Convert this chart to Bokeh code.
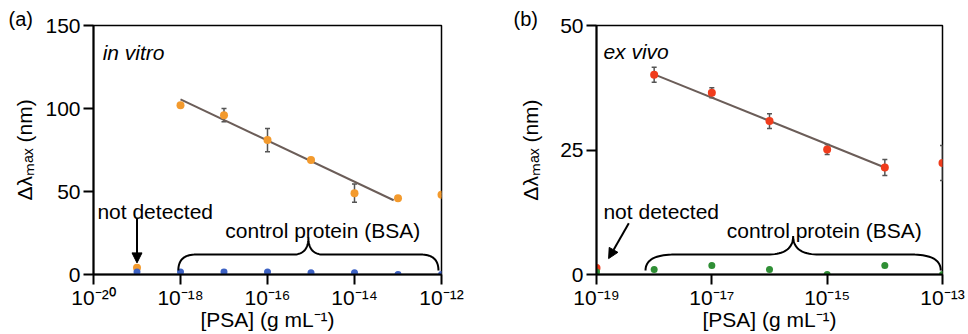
import numpy as np
from bokeh.plotting import figure
from bokeh.models import (ColumnDataSource, Whisker, TeeHead, Label, FixedTicker,
                          CustomJSTickFormatter, Arrow, NormalHead, Range1d)
from bokeh.layouts import row
from bokeh.embed import file_html
from bokeh.resources import INLINE

# ---------------- data: panel (a) in vitro ----------------
a_exponents = [-19, -18, -17, -16, -15, -14, -13, -12]
a_psa = [4, 102, 96, 81, 69, 49, 46, 48]
a_psa_err = [0.8, 1.0, 4.0, 7.0, 1.0, 5.5, 1.0, 1.0]
a_bsa = [1.5, 1.5, 1.5, 1.5, 1.0, 1.0, 0.0, 0.0]
a_fit_exp = [-18.0, -13.1]
a_fit_intercept = 105.5   # value at 1e-18
a_fit_slope = -12.4       # nm per decade

# ---------------- data: panel (b) ex vivo ----------------
b_exponents = [-19, -18, -17, -16, -15, -14, -13]
b_psa = [1.3, 40.1, 36.5, 30.8, 25.1, 21.5, 22.4]
b_psa_err = [0.5, 1.5, 1.0, 1.5, 1.0, 1.6, 3.5]
b_bsa = [0.5, 1.0, 1.8, 1.0, 0.0, 1.8, 0.0]
b_fit_exp = [-18.0, -14.0]
b_fit_intercept = 40.2
b_fit_slope = -4.68

a_xticks = [-20, -18, -16, -14, -12]
a_yticks = [0, 50, 100, 150]
b_xticks = [-19, -17, -15, -13]
b_yticks = [0, 25, 50]

FONT = "Liberation Sans"
ORANGE = "#f39a2d"
BLUE = "#3d62c4"
RED = "#f03c1c"
GREEN = "#2f8f35"
FITC = "#6b5d58"
ERRC = "#555555"

tick_js = """
const sup = {"-":"\u207b","0":"\u2070","1":"\u00b9","2":"\u00b2","3":"\u00b3","4":"\u2074",
             "5":"\u2075","6":"\u2076","7":"\u2077","8":"\u2078","9":"\u2079"};
const e = Math.round(Math.log10(tick));
return "10" + String(e).split("").map(c => sup[c]).join("");
"""


def brace_points(lx, rx, y0, y1, y2, cx, d1, d2, n=20):
    t = np.linspace(0, 1, n)

    def quad(p0, c, p1):
        xs = (1 - t) ** 2 * p0[0] + 2 * (1 - t) * t * c[0] + t ** 2 * p1[0]
        ys = (1 - t) ** 2 * p0[1] + 2 * (1 - t) * t * c[1] + t ** 2 * p1[1]
        return list(xs), list(ys)

    X, Y = [], []
    for seg in [quad((lx, y0), (lx, y1), (lx + d1, y1)),
                quad((cx - d2, y1), (cx, y1), (cx, y2)),
                quad((cx, y2), (cx, y1), (cx + d2, y1)),
                quad((rx - d1, y1), (rx, y1), (rx, y0))]:
        X += seg[0]
        Y += seg[1]
    return [10 ** v for v in X], Y


def make_panel(width, border_left, border_right, exps, psa, err, bsa, fit_exp, fit_b, fit_m,
               xticks, yticks, xr, yr, psa_color, bsa_color, ylabel_standoff,
               panel_tag, tag_offset):
    p = figure(width=width, height=334, x_axis_type="log",
               x_range=Range1d(10.0 ** xr[0], 10.0 ** xr[1]), y_range=Range1d(*yr),
               output_backend="svg", toolbar_location=None,
               min_border_left=border_left, min_border_right=border_right,
               min_border_top=25, min_border_bottom=60)
    p.grid.visible = False
    p.outline_line_color = "black"
    p.outline_line_width = 1.5
    p.background_fill_color = "white"
    p.border_fill_color = "white"

    p.title.text = panel_tag
    p.title.align = "left"
    p.title.offset = tag_offset
    p.title.standoff = -8
    p.title.text_font = FONT
    p.title.text_font_size = "20px"
    p.title.text_font_style = "normal"
    p.title.text_color = "black"

    p.xaxis.ticker = FixedTicker(ticks=[10.0 ** e for e in xticks], minor_ticks=[])
    p.xaxis.formatter = CustomJSTickFormatter(code=tick_js)
    p.yaxis.ticker = FixedTicker(ticks=yticks, minor_ticks=[])
    for ax in (p.xaxis[0], p.yaxis[0]):
        ax.axis_line_width = 2
        ax.axis_line_color = "black"
        ax.major_tick_line_width = 2
        ax.major_tick_line_color = "black"
        ax.major_tick_out = 10
        ax.major_tick_in = 0
        ax.minor_tick_line_color = None
        ax.major_label_text_font = FONT
        ax.major_label_text_font_size = "21px"
        ax.major_label_text_color = "black"
        ax.axis_label_text_font = FONT
        ax.axis_label_text_font_size = "21px"
        ax.axis_label_text_font_style = "normal"
        ax.axis_label_text_color = "black"
    p.xaxis.major_label_standoff = 1
    p.yaxis.major_label_standoff = 3
    p.xaxis.axis_label = "[PSA] (g mL\u207b\u00b9)"
    p.xaxis.axis_label_standoff = -4
    p.yaxis.axis_label = "\u0394\u03bb\u2098\u2090\u2093 (nm)"
    p.yaxis.axis_label_standoff = ylabel_standoff

    x = [10.0 ** e for e in exps]
    src = ColumnDataSource(dict(x=x, psa=psa, bsa=bsa,
                                up=[v + e for v, e in zip(psa, err)],
                                lo=[v - e for v, e in zip(psa, err)]))
    fx = np.linspace(fit_exp[0], fit_exp[1], 2)
    fy = fit_b + fit_m * (fx - fit_exp[0])
    p.line(10.0 ** fx, fy, line_color=FITC, line_width=2)
    w = Whisker(base="x", upper="up", lower="lo", source=src, dimension="height",
                line_color=ERRC, line_width=1.5,
                upper_head=TeeHead(size=5, line_color=ERRC, line_width=1.5),
                lower_head=TeeHead(size=5, line_color=ERRC, line_width=1.5))
    p.add_layout(w)
    p.scatter("x", "psa", source=src, size=8, fill_color=psa_color, line_color=None)
    p.scatter("x", "bsa", source=src, size=7, fill_color=bsa_color, line_color=None)
    return p


pa = make_panel(488, 93, 47, a_exponents, a_psa, a_psa_err, a_bsa, a_fit_exp,
                a_fit_intercept, a_fit_slope, a_xticks, a_yticks, (-20, -12), (0, 150),
                ORANGE, BLUE, 6, "(a)", -85)
pb = make_panel(480, 108, 26, b_exponents, b_psa, b_psa_err, b_bsa, b_fit_exp,
                b_fit_intercept, b_fit_slope, b_xticks, b_yticks, (-19, -13), (0, 50),
                RED, GREEN, 15, "(b)", -83)


def lab(p, text, x, y, size="21px", style="normal"):
    p.add_layout(Label(x=x, y=y, text=text, text_font=FONT, text_font_size=size,
                       text_font_style=style, text_align="left",
                       text_baseline="alphabetic", text_color="black"))


# ---- panel (a) annotations ----
lab(pa, "in vitro", 10 ** -19.79, 134, style="italic")
lab(pa, "not detected", 10 ** -19.91, 38)
pa.add_layout(Arrow(end=NormalHead(size=10, fill_color="black", line_color="black"),
                    x_start=10 ** -19, y_start=34, x_end=10 ** -19, y_end=7,
                    line_width=2, line_color="black"))
lab(pa, "control protein (BSA)", 10 ** -16.97, 26.5)
bx, by = brace_points(-18.05, -12.07, 2.4, 12, 22.3, -15.06, 0.4, 0.35)
pa.line(bx, by, line_color="black", line_width=2)

# ---- panel (b) annotations ----
lab(pb, "ex vivo", 10 ** -18.88, 44.8, style="italic")
lab(pb, "not detected", 10 ** -18.88, 12.7)
pb.add_layout(Arrow(end=NormalHead(size=10, fill_color="black", line_color="black"),
                    x_start=10 ** -18.44, y_start=10.3, x_end=10 ** -18.79, y_end=3.2,
                    line_width=2, line_color="black"))
lab(pb, "control protein (BSA)", 10 ** -16.74, 8.9)
bx, by = brace_points(-18.15, -13.03, 0.8, 4.0, 7.7, -15.59, 0.5, 0.45)
pb.line(bx, by, line_color="black", line_width=2)

layout = row(pa, pb)
open("out.html", "w").write(file_html(layout, INLINE))
